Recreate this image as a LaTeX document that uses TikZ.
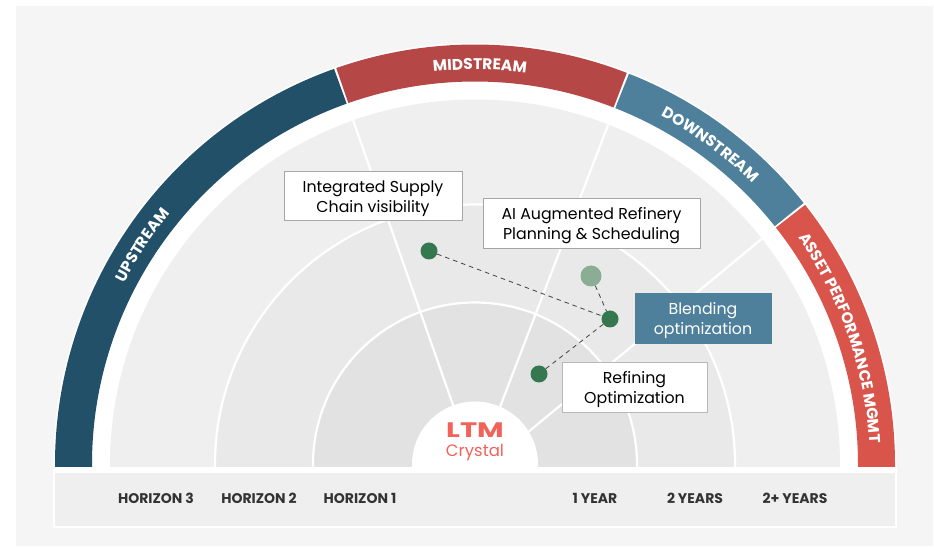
\documentclass[tikz,border=0pt]{standalone}
\usepackage{fontspec}
\usepackage{graphicx}
\setmainfont{Poppins}
\usetikzlibrary{decorations.text}

\definecolor{panelgray}{HTML}{F5F5F5}
\definecolor{ringouter}{HTML}{EFEFEF}
\definecolor{ringmiddle}{HTML}{E9E9E9}
\definecolor{ringinner}{HTML}{E2E2E2}
\definecolor{upstreamblue}{HTML}{225068}
\definecolor{midstreamred}{HTML}{B54746}
\definecolor{downstreamblue}{HTML}{4E7F9B}
\definecolor{assetred}{HTML}{D9544A}
\definecolor{dotgreen}{HTML}{35784F}
\definecolor{dotpale}{HTML}{8AAD94}
\definecolor{logored}{HTML}{F2625A}
\definecolor{captiongray}{HTML}{333333}

\tikzset{
    band/.style={line width=37pt},
    spoke/.style={draw=white, line width=2.2pt},
    itembox/.style={draw=#1, fill=white, line width=1pt, align=center, font=\fontsize{15.8}{20}\selectfont, inner sep=0pt, execute at begin node=\rule{0pt}{36pt}},
    dot/.style={circle, fill=dotgreen, minimum size=17pt, inner sep=0pt},
    paledot/.style={circle, fill=dotpale, minimum size=21pt, inner sep=0pt},
    link/.style={dash pattern=on 4.5pt off 4pt, draw=black!75, line width=0.8pt},
    caption/.style={font=\fontsize{14}{16}\selectfont\bfseries, text=captiongray},
}

\newcommand{\bandlabel}[3]{%
    \path[decorate, decoration={text along path, text align=center,
        text={|\fontsize{15.5}{16}\selectfont\bfseries\color{white}|#3}}]
        (#1:395) arc (#1:#2:395);
}

\begin{document}
\begin{tikzpicture}[x=1pt, y=1pt]
    \useasboundingbox (0, 0) rectangle (934, 546);

    % Фон
    \fill[panelgray] (16, 0) rectangle (933, 540);

    \begin{scope}[shift={(475, 81.5)}]
        \begin{scope}
            \clip (-500, -2.5) rectangle (500, 500);

            % Белая подложка и кольца
            \fill[white] (0, 0) circle (421.5);
            \fill[ringouter] (0, 0) circle (365);
            \draw[spoke, fill=ringmiddle] (0, 0) circle (260);
            \draw[spoke, fill=ringinner] (0, 0) circle (162);

            % Спицы
            \draw[spoke] (110.3:63) -- (109.5:365);
            \draw[spoke] (66.5:63) -- (68.6:365);
            \draw[spoke] (31.5:63) -- (38.2:365);

            % Центр
            \fill[white] (0, 0) circle (63);

            % Внешняя дуга
            \draw[band, upstreamblue] (182:401.5) arc (182:109.6:401.5);
            \draw[band, midstreamred] (109.3:401.5) arc (109.3:68.8:401.5);
            \draw[band, downstreamblue] (68.5:401.5) arc (68.5:38.5:401.5);
            \draw[band, assetred] (38.2:401.5) arc (38.2:-2:401.5);
        \end{scope}

        % Подписи дуги
        \bandlabel{171.6}{121.6}{UPSTREAM}
        \bandlabel{114.3}{64.3}{MIDSTREAM}
        \bandlabel{78.7}{28.7}{DOWNSTREAM}
        \bandlabel{49.1}{-10.9}{ASSET PERFORMANCE MGMT}

        % Логотип
        \node[anchor=base, text=logored, font=\fontsize{21}{21}\selectfont\bfseries] (logotop) at (0, 26.5) {\scalebox{1.38}[1]{LTM}};
        \node[anchor=base, text=logored, font=\fontsize{16.5}{18}\selectfont] (logobottom) at (0, 7.5) {Crystal};
    \end{scope}

    % Нижняя полоса
    \draw[draw=white, line width=2pt, fill=ringouter] (54, 19) rectangle (896, 74);
    \fill[white] (53, 74) rectangle (897, 79);

    \node[caption] (h3) at (156, 48) {HORIZON 3};
    \node[caption] (h2) at (259, 48) {HORIZON 2};
    \node[caption] (h1) at (360, 48) {HORIZON 1};
    \node[caption] (y1) at (595, 48) {1 YEAR};
    \node[caption] (y2) at (695, 48) {2 YEARS};
    \node[caption] (y3) at (795, 48) {2+ YEARS};

    % Точки
    \node[dot] (pointa) at (429, 295) {};
    \node[paledot] (pointb) at (591, 270) {};
    \node[dot] (pointc) at (610, 227) {};
    \node[dot] (pointd) at (539, 172) {};

    % Пунктир
    \draw[link] (pointa) -- (pointc);
    \draw[link] (pointb) -- (pointc);
    \draw[link] (pointc) -- (pointd);

    % Подписи
    \node[itembox=black!35, minimum width=178pt, minimum height=49pt] (supply) at (373, 349.5) {Integrated Supply\\Chain visibility};
    \node[itembox=black!35, minimum width=217pt, minimum height=50pt] (refinery) at (591.5, 322) {AI Augmented Refinery\\Planning \& Scheduling};
    \node[itembox=downstreamblue, fill=downstreamblue, text=white, minimum width=136pt, minimum height=50pt] (blending) at (703, 227) {Blending\\optimization};
    \node[itembox=black!28, minimum width=145pt, minimum height=50pt] (refining) at (634.5, 158) {Refining\\Optimization};
\end{tikzpicture}
\end{document}
